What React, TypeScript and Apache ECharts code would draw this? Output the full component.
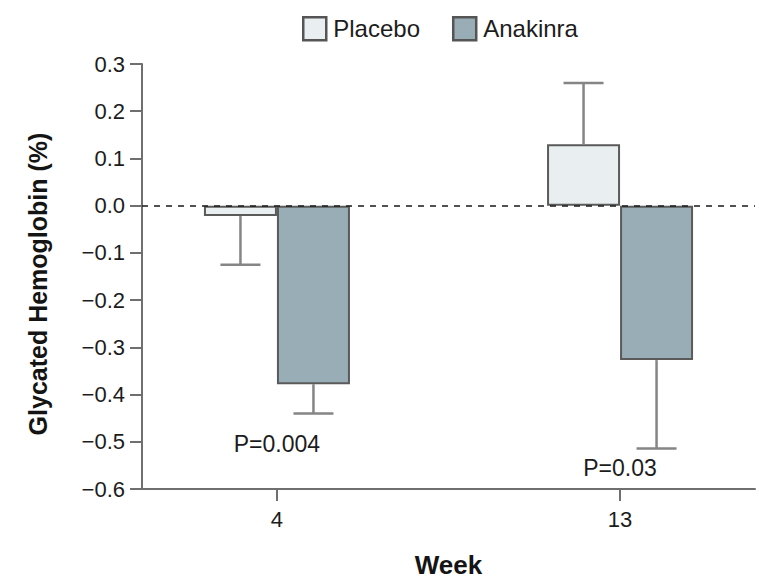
import React, { useEffect, useRef } from "react";
import * as echarts from "echarts";

const weeks = [4, 13];
const placebo = [-0.022, 0.13];
const anakinra = [-0.378, -0.327];
const placeboErr = [0.103, 0.13];
const anakinraErr = [0.062, 0.187];
const pLabels = ["P=0.004", "P=0.03"];
const pLabelY = [-0.505, -0.556];
const yTicksMin = -0.6;
const yTicksMax = 0.3;
const yTickStep = 0.1;

const FONT = '"Liberation Sans", Arial, sans-serif';
const BAR_W = 73;
const CAP_HALF = 20;
const AXIS_COLOR = "#6f6f6f";
const TEXT_COLOR = "#1c1c1c";

function errEnd(v: number, e: number) {
  return v + (v < 0 ? -e : e);
}

function makeErrorSeries(values: number[], errs: number[], side: number) {
  return {
    type: "custom",
    z: 3,
    silent: true,
    encode: { x: 0, y: [1, 2] },
    data: weeks.map((w, i) => [w, values[i], errEnd(values[i], errs[i])]),
    renderItem: (params: any, api: any) => {
      const x = api.value(0);
      const p0 = api.coord([x, api.value(1)]);
      const p1 = api.coord([x, api.value(2)]);
      const cx = p0[0] + (side * BAR_W) / 2;
      const style = { stroke: "#858585", lineWidth: 2.5 };
      return {
        type: "group",
        children: [
          { type: "line", shape: { x1: cx, y1: p0[1], x2: cx, y2: p1[1] }, style },
          {
            type: "line",
            shape: { x1: cx - CAP_HALF, y1: p1[1], x2: cx + CAP_HALF, y2: p1[1] },
            style,
          },
        ],
      };
    },
  };
}

export default function App() {
  const ref = useRef<HTMLDivElement>(null);
  useEffect(() => {
    if (!ref.current) return;
    const chart = echarts.init(ref.current, null, { renderer: "svg" });
    chart.setOption({
      animation: false,
      backgroundColor: "#ffffff",
      textStyle: { fontFamily: FONT },
      grid: { left: 142, right: 4, top: 64, bottom: 92, containLabel: false, outerBoundsMode: "none" },
      legend: {
        left: 297,
        top: 11,
        itemWidth: 23,
        itemHeight: 23,
        itemGap: 32,
        icon: "rect",
        textStyle: { fontSize: 24, color: TEXT_COLOR, fontFamily: FONT, padding: [0, 0, 0, 2] },
        data: [
          { name: "Placebo", itemStyle: { borderColor: "#555", borderWidth: 2.5 } },
          { name: "Anakinra", itemStyle: { borderColor: "#555", borderWidth: 2.5 } },
        ],
      },
      graphic: [
        {
          type: "text",
          x: 38,
          y: 284,
          rotation: Math.PI / 2,
          silent: true,
          style: {
            text: "Glycated Hemoglobin (%)",
            font: `bold 25px ${FONT}`,
            fill: "#141414",
            align: "center",
            verticalAlign: "middle",
          },
        },
      ],
      xAxis: {
        type: "value",
        min: 0.46,
        max: 16.54,
        splitLine: { show: false },
        axisLine: { show: true, onZero: false, lineStyle: { color: AXIS_COLOR, width: 2 } },
        axisTick: { show: true, customValues: weeks, length: 12, lineStyle: { color: AXIS_COLOR, width: 2 } },
        axisLabel: {
          customValues: weeks,
          fontSize: 22,
          color: TEXT_COLOR,
          fontFamily: FONT,
          margin: 19,
        },
        name: "Week",
        nameLocation: "middle",
        nameGap: 62,
        nameTextStyle: {
          fontSize: 26,
          lineHeight: 27,
          fontWeight: "bold",
          color: "#141414",
          fontFamily: FONT,
        },
      },
      yAxis: {
        type: "value",
        min: yTicksMin,
        max: yTicksMax,
        interval: yTickStep,
        splitLine: { show: false },
        axisLine: { show: true, lineStyle: { color: AXIS_COLOR, width: 2 } },
        axisTick: { show: true, length: 12, lineStyle: { color: AXIS_COLOR, width: 2 } },
        axisLabel: {
          fontSize: 22,
          color: TEXT_COLOR,
          fontFamily: FONT,
          margin: 17,
          formatter: (v: number) => {
            const r = Math.round(v * 10) / 10;
            return (r < 0 ? "\u2212" : "") + Math.abs(r).toFixed(1);
          },
        },
      },
      series: [
        {
          name: "Placebo",
          type: "bar",
          barWidth: BAR_W,
          barGap: "0%",
          itemStyle: { color: "#e9eff0", borderColor: "#5a5a5a", borderWidth: 2 },
          data: weeks.map((w, i) => [w, placebo[i]]),
          markLine: {
            silent: true,
            symbol: "none",
            z: 10,
            label: { show: false },
            lineStyle: { type: [6, 6], color: "#1a1a1a", width: 1.5 },
            data: [{ yAxis: 0 }],
          },
        },
        {
          name: "Anakinra",
          type: "bar",
          barWidth: BAR_W,
          barGap: "0%",
          itemStyle: { color: "#98adb6", borderColor: "#5a5a5a", borderWidth: 2 },
          data: weeks.map((w, i) => [w, anakinra[i]]),
        },
        makeErrorSeries(placebo, placeboErr, -1),
        makeErrorSeries(anakinra, anakinraErr, 1),
        {
          type: "custom",
          silent: true,
          z: 5,
          encode: { x: 0, y: 1 },
          data: weeks.map((w, i) => [w, pLabelY[i]]),
          renderItem: (params: any, api: any) => {
            const p = api.coord([api.value(0), api.value(1)]);
            return {
              type: "text",
              x: p[0],
              y: p[1],
              style: {
                text: pLabels[params.dataIndex],
                font: `23px ${FONT}`,
                fill: TEXT_COLOR,
                align: "center",
                verticalAlign: "middle",
              },
            };
          },
        },
      ],
    });
    return () => chart.dispose();
  }, []);
  return (
    <div
      ref={ref}
      style={{ position: "fixed", left: 0, top: 0, width: 759, height: 581 }}
    />
  );
}
